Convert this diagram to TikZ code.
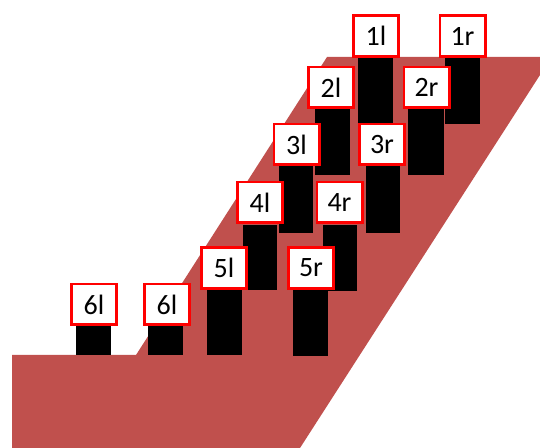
\documentclass[tikz,border=0pt]{standalone}
\usepackage{fontspec}
\setmainfont{Carlito}
\definecolor{slope}{RGB}{192,80,77}
\definecolor{tagred}{RGB}{255,0,0}

\begin{document}
\begin{tikzpicture}[x=0.75pt, y=-0.75pt,
  tagbox/.style={draw=tagred, line width=2pt, fill=white, inner sep=0pt,
    minimum width=34pt, minimum height=30.5pt, font=\fontsize{21}{24}\selectfont},
  post/.style={fill=black}]
  \useasboundingbox (0,0) rectangle (540,448);
  %% 1. Ground and slope
  \fill[slope] (12,355) -- (136,355) -- (327,57) -- (540,57) -- (540,75)
    -- (300,448) -- (12,448) -- cycle;

  %% 2. Row 1
  \fill[post] (358,58) rectangle (393,124);
  \fill[post] (445,58) rectangle (480,124);
  \node[tagbox] (l1) at (376,36) {1l};
  \node[tagbox] (r1) at (462.5,36) {1r};

  %% 3. Row 2
  \fill[post] (315,109) rectangle (350,175);
  \fill[post] (408,109) rectangle (444,175);
  \node[tagbox] (l2) at (331,87.5) {2l};
  \node[tagbox] (r2) at (426.5,87.5) {2r};

  %% 4. Row 3
  \fill[post] (279,166) rectangle (313,233);
  \fill[post] (366,166) rectangle (400,233);
  \node[tagbox] (l3) at (296.5,144.5) {3l};
  \node[tagbox] (r3) at (382,144.5) {3r};

  %% 5. Row 4
  \fill[post] (243,225) rectangle (277,290);
  \fill[post] (323,225) rectangle (357,291);
  \node[tagbox] (l4) at (260,202.5) {4l};
  \node[tagbox] (r4) at (339.5,202.5) {4r};

  %% 6. Row 5
  \fill[post] (207,290) rectangle (242,355);
  \fill[post] (293,290) rectangle (328,356);
  \node[tagbox] (l5) at (224,268) {5l};
  \node[tagbox] (r5) at (311,268) {5r};

  %% 7. Row 6
  \fill[post] (76,326) rectangle (111,355);
  \fill[post] (148,326) rectangle (183,355);
  \node[tagbox] (l6a) at (94,304.5) {6l};
  \node[tagbox] (l6b) at (167,304.5) {6l};
\end{tikzpicture}
\end{document}
